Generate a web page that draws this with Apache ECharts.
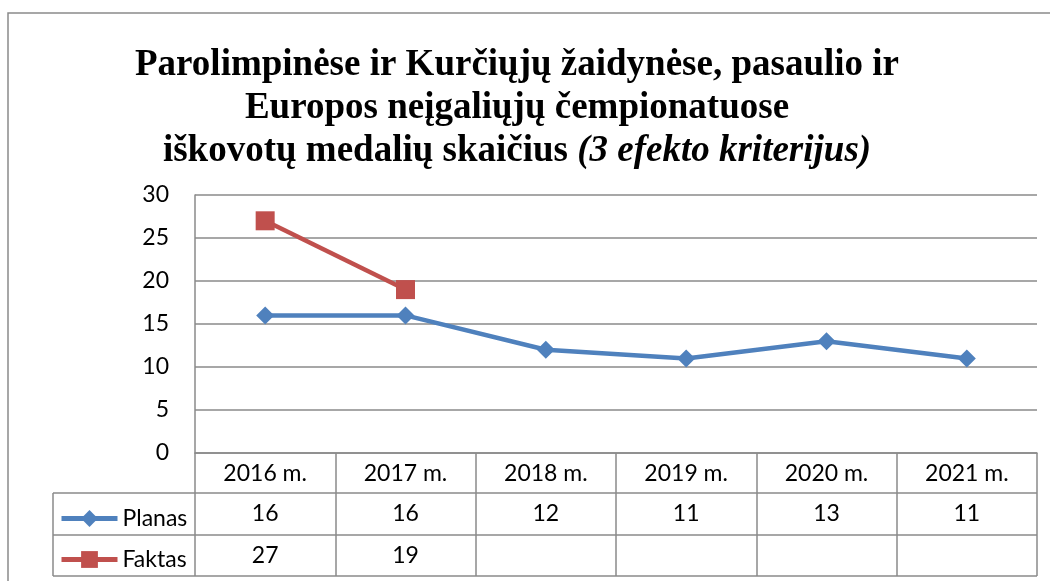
<!DOCTYPE html>
<html>
<head>
<meta charset="utf-8">
<script src="https://cdn.jsdelivr.net/npm/echarts@6/dist/echarts.min.js"></script>
<style>
  html, body { margin: 0; padding: 0; background: #fff; }
  #main { width: 1050px; height: 581px; }
</style>
</head>
<body>
<div id="main"></div>
<script>
// data
const categories = ['2016 m.', '2017 m.', '2018 m.', '2019 m.', '2020 m.', '2021 m.'];
const planas = [16, 16, 12, 11, 13, 11];
const faktas = [27, 19, null, null, null, null];
const seriesNames = ['Planas', 'Faktas'];
const yTicks = { min: 0, max: 30, interval: 5 };

const gridColor = '#8a8a8a';
const font = 'Lato';
const blue = '#4F81BD';
const red = '#C0504D';

// table rows under the plot
const rowTop = [493, 535, 576];
const tableLeft = 53;
const plotLeft = 195;
const plotRight = 1037;

var chartDom = document.getElementById('main');
var myChart = echarts.init(chartDom);

var option = {
  animation: false,
  title: {
    left: 517,
    top: 44,
    padding: 0,
    textAlign: 'center',
    text: '{b|Parolimpinėse ir Kurčiųjų žaidynėse, pasaulio ir}\n{b|Europos neįgaliųjų čempionatuose}\n{b|iškovotų medalių skaičius }{i|(3 efekto kriterijus)}',
    textStyle: {
      rich: {
        b: { fontFamily: 'Liberation Serif', fontWeight: 'bold', fontSize: 37, lineHeight: 43, color: '#000' },
        i: { fontFamily: 'Liberation Serif', fontWeight: 'bold', fontStyle: 'italic', fontSize: 37, lineHeight: 43, color: '#000' }
      }
    }
  },
  legend: {
    orient: 'vertical',
    left: 54,
    top: 502,
    itemWidth: 56,
    itemHeight: 21,
    itemGap: 18,
    data: seriesNames,
    lineStyle: { width: 5 },
    textStyle: { fontFamily: font, fontSize: 23, lineHeight: 23, color: '#000' }
  },
  grid: { left: plotLeft, right: 1050 - plotRight, top: 195, bottom: 128 },
  xAxis: {
    type: 'category',
    data: categories,
    boundaryGap: true,
    axisLine: { lineStyle: { color: gridColor, width: 1.5 } },
    axisTick: { show: true, length: 123, lineStyle: { color: gridColor, width: 1.5 } },
    axisLabel: { margin: 9, fontFamily: font, fontSize: 23, lineHeight: 23, color: '#000', interval: 0 }
  },
  yAxis: {
    type: 'value',
    min: yTicks.min,
    max: yTicks.max,
    interval: yTicks.interval,
    axisLine: { show: true, lineStyle: { color: gridColor, width: 1.5 } },
    axisTick: { show: false },
    axisLabel: { margin: 26, fontFamily: font, fontSize: 23, color: '#000' },
    splitLine: { lineStyle: { color: gridColor, width: 1.5 } }
  },
  series: [
    {
      name: seriesNames[0],
      type: 'line',
      data: planas,
      symbol: 'diamond',
      symbolSize: 18,
      color: blue,
      lineStyle: { width: 4.5, color: blue },
      itemStyle: { color: blue }
    },
    {
      name: seriesNames[1],
      type: 'line',
      data: faktas.map(v => v === null ? '-' : v),
      symbol: 'rect',
      symbolSize: 19,
      color: red,
      lineStyle: { width: 4.5, color: red },
      itemStyle: { color: red }
    }
  ]
};

myChart.setOption(option);

// frame, table lines and table values
var graphics = [
  { type: 'rect', shape: { x: 8, y: 13, width: 1100, height: 700 }, style: { fill: null, stroke: gridColor, lineWidth: 1.5 }, z: 0 },
  { type: 'line', shape: { x1: tableLeft, y1: rowTop[0], x2: plotRight, y2: rowTop[0] }, style: { stroke: gridColor, lineWidth: 1.5 } },
  { type: 'line', shape: { x1: tableLeft, y1: rowTop[1], x2: plotRight, y2: rowTop[1] }, style: { stroke: gridColor, lineWidth: 1.5 } },
  { type: 'line', shape: { x1: tableLeft, y1: rowTop[2], x2: plotRight, y2: rowTop[2] }, style: { stroke: gridColor, lineWidth: 1.5 } },
  { type: 'line', shape: { x1: tableLeft, y1: rowTop[0], x2: tableLeft, y2: rowTop[2] }, style: { stroke: gridColor, lineWidth: 1.5 } }
];
[planas, faktas].forEach(function (row, r) {
  row.forEach(function (v, i) {
    if (v === null) return;
    var x = myChart.convertToPixel({ xAxisIndex: 0 }, i);
    graphics.push({
      type: 'text',
      x: x,
      y: (rowTop[r] + rowTop[r + 1]) / 2,
      style: { text: String(v), font: '23px ' + font, fill: '#000', align: 'center', verticalAlign: 'middle' }
    });
  });
});
myChart.setOption({ graphic: graphics });
</script>
</body>
</html>
